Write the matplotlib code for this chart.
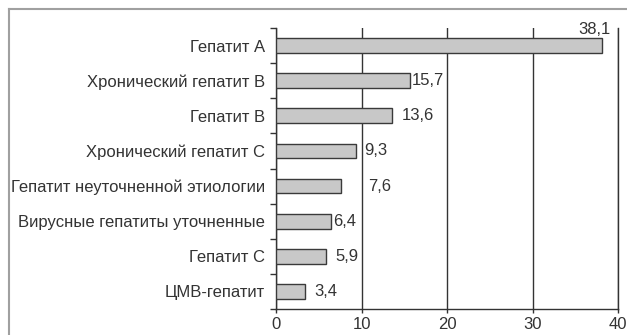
import matplotlib.pyplot as plt
from matplotlib.lines import Line2D
import numpy as np

plt.rcParams['font.family'] = ['Liberation Sans', 'DejaVu Sans']

categories = ['Гепатит А', 'Хронический гепатит В', 'Гепатит В', 'Хронический гепатит С',
              'Гепатит неуточненной этиологии', 'Вирусные гепатиты уточненные',
              'Гепатит С', 'ЦМВ-гепатит']
values = [38.1, 15.7, 13.6, 9.3, 7.6, 6.4, 5.9, 3.4]
value_labels = ['38,1', '15,7', '13,6', '9,3', '7,6', '6,4', '5,9', '3,4']
# horizontal gap between bar end and its label, in pixels
label_gap = [9, 2, 9, 9, 27, 2, 9, 9]

txt = '#333333'
fs = 12
W, H = 627, 335
fig = plt.figure(figsize=(W / 100, H / 100), dpi=100)
ax = fig.add_axes([276 / W, 1 - 309 / H, (618 - 276) / W, (309 - 28) / H])

y = np.arange(len(categories))
bar_h = 0.42
ax.barh(y, values, height=bar_h, color='#c8c8c8', edgecolor='#3a3a3a', linewidth=1.0, zorder=3)

for yi, v, lab, g in zip(y, values, value_labels, label_gap):
    if yi == 0:
        ax.annotate(lab, (v, yi - bar_h / 2), xytext=(g * 0.72, 1), textcoords='offset points',
                    ha='right', va='bottom', fontsize=fs, color=txt)
    else:
        ax.annotate(lab, (v, yi), xytext=(g * 0.72, 0), textcoords='offset points',
                    ha='left', va='center', fontsize=fs, color=txt)

ax.set_xlim(0, 40)
ax.set_ylim(len(categories) - 0.5, -0.5)
ax.set_xticks([0, 10, 20, 30, 40])
ax.xaxis.grid(True, color='#333333', linewidth=1.0, zorder=0)
ax.set_yticks(y)
ax.set_yticklabels(categories, fontsize=fs, color=txt)
ax.set_yticks(np.arange(len(categories) + 1) - 0.5, minor=True)
ax.tick_params(axis='y', which='major', length=0, pad=8)
ax.tick_params(axis='y', which='minor', length=4, width=1, color='#333333')
ax.tick_params(axis='x', length=3, width=1, color='#333333', labelsize=fs, labelcolor=txt, pad=3)

ax.spines['top'].set_visible(False)
for s in ['left', 'bottom', 'right']:
    ax.spines[s].set_color('#333333')
    ax.spines[s].set_linewidth(1.0)

# outer frame: left and top edges only
fig.add_artist(Line2D([8.5 / W, 8.5 / W], [0, 1 - 8.5 / H], color='#a0a0a0', linewidth=1.5))
fig.add_artist(Line2D([8.5 / W, 1], [1 - 8.5 / H, 1 - 8.5 / H], color='#a0a0a0', linewidth=1.5))

fig.savefig('out.png', dpi=100)
